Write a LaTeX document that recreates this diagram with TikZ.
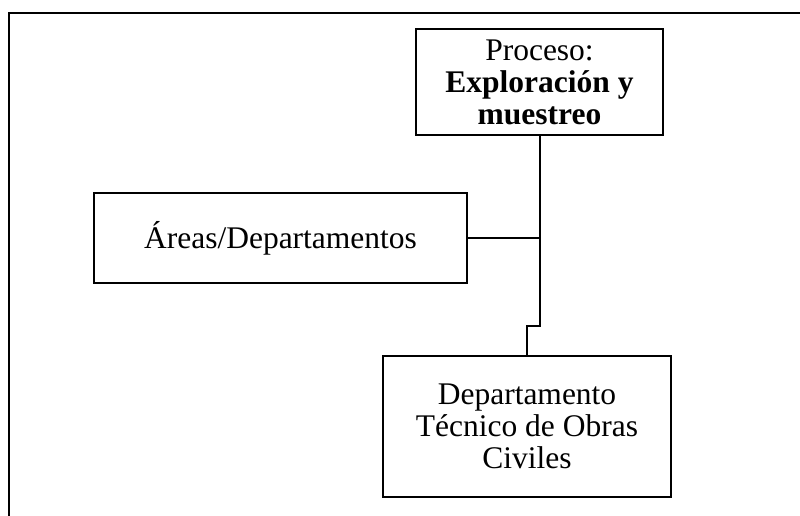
\documentclass[tikz,border=0pt]{standalone}
\usepackage{fontspec}
\setmainfont{Liberation Serif}
\begin{document}
\begin{tikzpicture}[x=1pt,y=1pt,
  box/.style={draw=black, line width=2.4pt, fill=white, align=center, inner sep=0pt,
    font=\fontsize{31.5}{32}\selectfont},
  conn/.style={draw=black, line width=2pt},
  frame/.style={draw=black, line width=2.4pt}]
\useasboundingbox (0,0) rectangle (800,515);
\draw[frame] (9,-2) -- (9,502) -- (802,502);
\node[box, minimum width=247pt, minimum height=106pt] (top) at (539.5,433) {Proceso:\\\textbf{Exploración y}\\\textbf{muestreo}};
\node[box, minimum width=373pt, minimum height=90pt] (areas) at (280.5,277) {Áreas/Departamentos};
\node[box, minimum width=288pt, minimum height=141pt] (bottom) at (527,88.5) {Departamento\\Técnico de Obras\\Civiles};
\coordinate (bend) at (539,189);
\draw[conn] (top.south) -- (top.south |- bend) -- (bend -| bottom.north) -- (bottom.north);
\draw[conn] (areas.east) -- (areas.east -| top.south);
\end{tikzpicture}
\end{document}
